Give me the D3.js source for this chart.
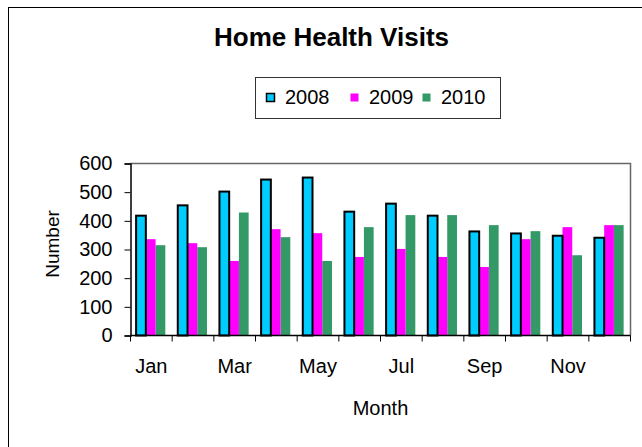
<!DOCTYPE html>
<html><head><meta charset="utf-8">
<script src="https://cdn.jsdelivr.net/npm/d3@7"></script>
<style>
html,body{margin:0;padding:0;background:#fff;}
svg{display:block;font-family:"Liberation Sans",Arial,sans-serif;}
</style></head>
<body>
<svg id="chart" width="642" height="447"></svg>
<script>
const months = ["Jan","Feb","Mar","Apr","May","Jun","Jul","Aug","Sep","Oct","Nov","Dec"];
const series = ["2008","2009","2010"];
const values2008 = [418,454,502,544,551,432,460,418,363,356,348,341];
const values2009 = [336,322,260,371,357,274,302,274,239,336,378,385];
const values2010 = [315,308,429,343,260,378,420,420,385,364,280,385];
const yTicks = [0,100,200,300,400,500,600];
const xLabelMonths = ["Jan","Mar","May","Jul","Sep","Nov"];
const colors = ["#00CCFF","#FF00FF","#339966"];

const valuesBySeries = [values2008, values2009, values2010];
const svg = d3.select("#chart");

// outer chart border
svg.append("rect").attr("x",8.5).attr("y",7.5).attr("width",700).attr("height",500)
  .attr("fill","none").attr("stroke","#000").attr("stroke-width",1);

const plot = {left:130.5, right:630.5, top:163.5, bottom:335.5};

const x0 = d3.scaleBand().domain(months).range([plot.left, plot.right]).padding(0);
const x1 = d3.scaleBand().domain(series).range([0, x0.bandwidth()])
  .paddingInner(0).paddingOuter(0.64).align(0.45);
const y = d3.scaleLinear().domain([0,600]).range([plot.bottom, plot.top]);
const color = d3.scaleOrdinal().domain(series).range(colors);

// plot area border (top & right gray)
svg.append("path")
  .attr("d",`M${plot.left},${plot.top}H${plot.right}V${plot.bottom}`)
  .attr("fill","none").attr("stroke","#666").attr("stroke-width",1.5);

// bars
const groups = svg.append("g").selectAll("g").data(months).join("g")
  .attr("transform", d => `translate(${x0(d)},0)`);
[2,1,0].forEach(si => {
  groups.append("rect")
    .attr("x", x1(series[si]))
    .attr("width", x1.bandwidth())
    .attr("y", (d,i) => y(valuesBySeries[si][i]))
    .attr("height", (d,i) => y(0) - y(valuesBySeries[si][i]))
    .attr("fill", color(series[si]))
    .attr("stroke", si===0 ? "#000" : "none")
    .attr("stroke-width", si===0 ? 2 : 0);
});

// y axis
const yAxis = svg.append("g").attr("transform",`translate(${plot.left},0)`)
  .call(d3.axisLeft(y).tickValues(yTicks).tickSize(6).tickPadding(12).tickFormat(d3.format("d")));
yAxis.select(".domain").attr("stroke","#000").attr("stroke-width",1.5);
yAxis.selectAll(".tick line").attr("stroke","#000");
yAxis.selectAll("text").attr("font-size",20).attr("fill","#000")
  .attr("font-family","Liberation Sans, Arial, sans-serif");

// x axis: ticks at category boundaries
const xAxisG = svg.append("g");
xAxisG.append("line").attr("x1",plot.left).attr("x2",plot.right)
  .attr("y1",plot.bottom).attr("y2",plot.bottom).attr("stroke","#000").attr("stroke-width",1.5);
const boundaries = months.map(m => x0(m)).concat([x0(months[months.length-1]) + x0.bandwidth()]);
xAxisG.selectAll("line.tk").data(boundaries).join("line").attr("class","tk")
  .attr("x1",d=>d).attr("x2",d=>d).attr("y1",plot.bottom).attr("y2",plot.bottom+6)
  .attr("stroke","#000");
xAxisG.selectAll("text").data(xLabelMonths).join("text")
  .attr("x", d => x0(d) + x0.bandwidth()/2)
  .attr("y", 373)
  .attr("text-anchor","middle").attr("font-size",20).attr("fill","#000")
  .text(d => d);

// axis titles
svg.append("text").attr("x",(plot.left+plot.right)/2).attr("y",415)
  .attr("text-anchor","middle").attr("font-size",20).text("Month");
svg.append("text").attr("transform","translate(59,244) rotate(-90)")
  .attr("text-anchor","middle").attr("font-size",19).text("Number");

// title
svg.append("text").attr("x",331.5).attr("y",46)
  .attr("text-anchor","middle").attr("font-size",26).attr("font-weight","bold")
  .text("Home Health Visits");

// legend
const legend = svg.append("g");
legend.append("rect").attr("x",255.5).attr("y",77.5).attr("width",245).attr("height",41)
  .attr("fill","#fff").attr("stroke","#333").attr("stroke-width",1);
const legX = d3.scaleOrdinal().domain(series).range([266,350,422]);
const items = legend.selectAll("g").data(series).join("g")
  .attr("transform", d => `translate(${legX(d)},0)`);
items.append("rect").attr("x",0.5).attr("y",93.5).attr("width",8).attr("height",8)
  .attr("fill", d => color(d))
  .attr("stroke", (d,i) => i===0 ? "#000" : "none").attr("stroke-width",1.5);
items.append("text").attr("x",19).attr("y",104).attr("font-size",20).text(d => d);
</script>
</body></html>
